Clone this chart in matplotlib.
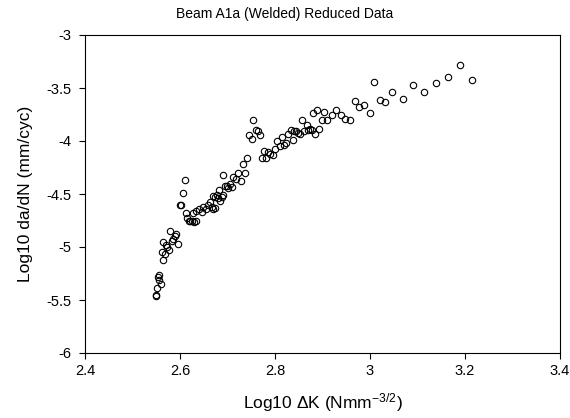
import matplotlib
matplotlib.use("Agg")
import matplotlib.pyplot as plt

plt.rcParams['font.family'] = ['Liberation Sans', 'DejaVu Sans']
plt.rcParams['mathtext.fontset'] = 'custom'
plt.rcParams['mathtext.rm'] = 'Liberation Sans'
plt.rcParams['mathtext.it'] = 'Liberation Sans:italic'
plt.rcParams['mathtext.bf'] = 'Liberation Sans:bold'

log_dK = [2.549, 2.550, 2.552, 2.561, 2.556, 2.554, 2.556, 2.564, 2.562, 2.568,
          2.577, 2.572, 2.571, 2.565, 2.583, 2.596, 2.586, 2.589, 2.592, 2.579,
          2.599, 2.603, 2.607, 2.611, 2.613, 2.614, 2.618, 2.622, 2.625, 2.629,
          2.634, 2.627, 2.634, 2.641, 2.646, 2.649, 2.655, 2.658, 2.663, 2.667,
          2.670, 2.674, 2.669, 2.674, 2.677, 2.681, 2.684, 2.688, 2.691, 2.683,
          2.695, 2.698, 2.702, 2.705, 2.709, 2.691, 2.712, 2.718, 2.723, 2.728,
          2.737, 2.732, 2.742, 2.746, 2.751, 2.754, 2.760, 2.765, 2.768, 2.772,
          2.781, 2.777, 2.786, 2.789, 2.795, 2.800, 2.805, 2.811, 2.814, 2.818,
          2.823, 2.828, 2.833, 2.837, 2.840, 2.844, 2.849, 2.853, 2.856, 2.860,
          2.867, 2.870, 2.874, 2.877, 2.884, 2.893, 2.881, 2.889, 2.898, 2.903,
          2.910, 2.919, 2.928, 2.938, 2.947, 2.958, 2.968, 2.977, 2.988, 2.999,
          3.009, 3.021, 3.032, 3.046, 3.069, 3.091, 3.114, 3.139, 3.164, 3.189,
          3.215]
log_dadN = [-5.45, -5.46, -5.39, -5.35, -5.31, -5.28, -5.26, -5.12, -5.05, -5.07,
            -5.03, -5.00, -4.98, -4.95, -4.94, -4.97, -4.92, -4.90, -4.88, -4.85,
            -4.60, -4.60, -4.49, -4.37, -4.68, -4.73, -4.75, -4.75, -4.75, -4.76,
            -4.75, -4.68, -4.66, -4.64, -4.67, -4.62, -4.64, -4.60, -4.58, -4.62,
            -4.64, -4.63, -4.52, -4.53, -4.51, -4.54, -4.57, -4.53, -4.51, -4.46,
            -4.42, -4.42, -4.44, -4.41, -4.43, -4.32, -4.34, -4.36, -4.30, -4.38,
            -4.30, -4.22, -4.16, -3.94, -3.98, -3.80, -3.90, -3.91, -3.94, -4.16,
            -4.16, -4.09, -4.10, -4.12, -4.13, -4.08, -4.00, -4.05, -3.96, -4.04,
            -4.02, -3.93, -3.90, -3.99, -3.91, -3.91, -3.92, -3.93, -3.80, -3.91,
            -3.85, -3.90, -3.89, -3.90, -3.93, -3.89, -3.74, -3.71, -3.80, -3.73,
            -3.80, -3.75, -3.71, -3.75, -3.79, -3.80, -3.62, -3.68, -3.66, -3.74,
            -3.44, -3.61, -3.63, -3.54, -3.60, -3.47, -3.54, -3.45, -3.40, -3.28,
            -3.42]

x_ticks = [2.4, 2.6, 2.8, 3.0, 3.2, 3.4]
x_tick_labels = ['2.4', '2.6', '2.8', '3', '3.2', '3.4']
y_ticks = [-6, -5.5, -5, -4.5, -4, -3.5, -3]
y_tick_labels = ['-6', '-5.5', '-5', '-4.5', '-4', '-3.5', '-3']

fig = plt.figure(figsize=(5.7, 4.18), dpi=100)
ax = fig.add_axes([85/570, 1 - 353/418, 475/570, 318/418])

ax.plot(log_dK, log_dadN, linestyle='none', marker='o', markersize=4.6,
        markerfacecolor='none', markeredgecolor='black', markeredgewidth=0.8)

ax.set_xlim(2.4, 3.4)
ax.set_ylim(-6, -3)
ax.set_xticks(x_ticks)
ax.set_xticklabels(x_tick_labels)
ax.set_yticks(y_ticks)
ax.set_yticklabels(y_tick_labels)
ax.tick_params(direction='out', length=4, width=0.8, labelsize=10.5,
               top=False, right=False)
ax.tick_params(axis='x', pad=4)
ax.tick_params(axis='y', pad=6)
for s in ax.spines.values():
    s.set_linewidth(0.8)
    s.set_color('black')

fig.text(0.5, 1 - 14/418, 'Beam A1a (Welded) Reduced Data', fontsize=10,
         ha='center', va='center')
ax.set_xlabel(r'Log10 $\Delta$K (Nmm$^{-3/2}$)', fontsize=12.5, labelpad=9)
ax.set_ylabel('Log10 da/dN (mm/cyc)', fontsize=12.5, labelpad=9)

fig.savefig('out.png', dpi=100)
